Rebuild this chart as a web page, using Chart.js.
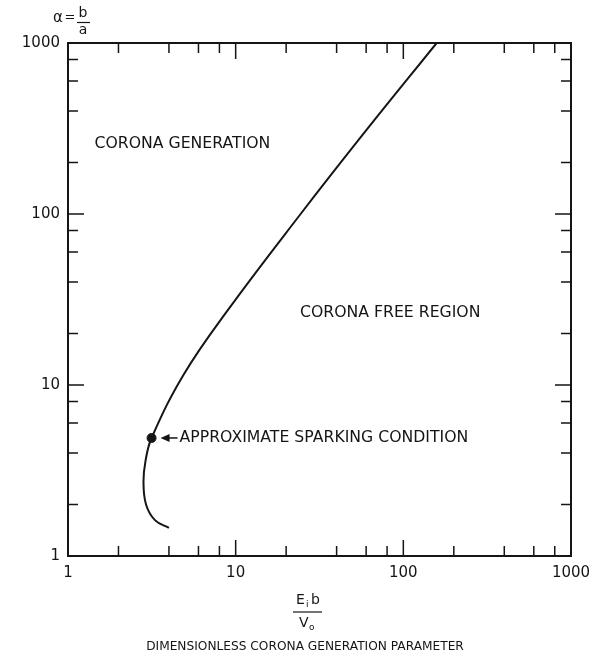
<!DOCTYPE html>
<html>
<head>
<meta charset="utf-8">
<script src="https://cdn.jsdelivr.net/npm/chart.js@4.4.0/dist/chart.umd.min.js"></script>
<style>
  html, body { margin: 0; padding: 0; background: #fff; }
</style>
</head>
<body>
<canvas id="chart" width="601" height="658"></canvas>
<script>
// Corona generation boundary (log-log)
const curveX = [4.0, 3.3, 2.92, 2.82, 2.9, 3.15, 4.92, 9.0, 24.2, 59, 158];
const curveY = [1.46, 1.62, 2.0, 2.7, 3.6, 4.9, 11.6, 27.5, 99, 302, 1000];
const sparkX = [3.15];
const sparkY = [4.9];

const tickValues = [1, 2, 4, 6, 8, 10, 20, 40, 60, 80, 100, 200, 400, 600, 800, 1000];
const tickLabels = ['1', '10', '100', '1000'];

const INK = '#151515';
const FONT = '"DejaVu Sans", sans-serif';

function setTicks(scale) {
  scale.ticks = tickValues.map(v => ({ value: v }));
}

function tickLabel(value) {
  const s = String(value);
  return tickLabels.includes(s) ? s : '';
}

// frame, inward ticks, notes and axis titles
const decorations = {
  id: 'decorations',
  afterDraw(chart) {
    const { ctx, chartArea: a, scales: { x, y } } = chart;
    ctx.save();
    ctx.strokeStyle = INK;
    ctx.lineWidth = 2;
    ctx.strokeRect(a.left, a.top, a.right - a.left, a.bottom - a.top);

    ctx.lineWidth = 1.5;
    tickValues.forEach(v => {
      if (v === 1 || v === 1000) return;
      const len = tickLabels.includes(String(v)) ? 16 : 10;
      const px = x.getPixelForValue(v);
      const py = y.getPixelForValue(v);
      ctx.beginPath();
      ctx.moveTo(px, a.bottom); ctx.lineTo(px, a.bottom - len);
      ctx.moveTo(px, a.top); ctx.lineTo(px, a.top + len);
      ctx.moveTo(a.left, py); ctx.lineTo(a.left + len, py);
      ctx.moveTo(a.right, py); ctx.lineTo(a.right - len, py);
      ctx.stroke();
    });

    ctx.fillStyle = INK;
    ctx.font = '15.7px ' + FONT;
    ctx.textBaseline = 'middle';
    ctx.textAlign = 'left';
    ctx.fillText('CORONA GENERATION', x.getPixelForValue(1.44), y.getPixelForValue(258));
    ctx.fillText('CORONA FREE REGION', x.getPixelForValue(24.2), y.getPixelForValue(26.5));

    // arrow to sparking point
    const sx = x.getPixelForValue(sparkX[0]);
    const sy = y.getPixelForValue(sparkY[0]);
    ctx.beginPath();
    ctx.moveTo(sx + 9, sy);
    ctx.lineTo(sx + 18, sy - 4);
    ctx.lineTo(sx + 18, sy + 4);
    ctx.closePath();
    ctx.fill();
    ctx.lineWidth = 1.5;
    ctx.beginPath();
    ctx.moveTo(sx + 16, sy); ctx.lineTo(sx + 26, sy);
    ctx.stroke();
    ctx.fillText('APPROXIMATE SPARKING CONDITION', sx + 28, sy);

    // y axis title: alpha = b / a
    ctx.font = '15px ' + FONT;
    ctx.textAlign = 'center';
    ctx.fillText('\u03b1', 58, 18);
    ctx.font = '13px ' + FONT;
    ctx.fillText('=', 70, 18);
    ctx.font = '14px ' + FONT;
    ctx.fillText('b', 83, 13);
    ctx.fillText('a', 83, 30);
    ctx.lineWidth = 1.2;
    ctx.beginPath();
    ctx.moveTo(77, 22.5); ctx.lineTo(90, 22.5);
    ctx.stroke();

    // x axis title: Ei b / Vo
    ctx.font = '14px ' + FONT;
    ctx.textAlign = 'left';
    ctx.fillText('E', 296, 600);
    ctx.font = '9px ' + FONT;
    ctx.fillText('i', 306, 605);
    ctx.font = '14px ' + FONT;
    ctx.fillText('b', 311, 600);
    ctx.fillText('V', 299, 623);
    ctx.font = '9px ' + FONT;
    ctx.fillText('o', 309, 628);
    ctx.beginPath();
    ctx.moveTo(293, 612); ctx.lineTo(322, 612);
    ctx.stroke();

    ctx.font = '12.2px ' + FONT;
    ctx.textAlign = 'center';
    ctx.fillText('DIMENSIONLESS CORONA GENERATION PARAMETER', 305, 647);
    ctx.restore();
  }
};

const axisTicks = {
  autoSkip: false,
  maxRotation: 0,
  padding: 8,
  color: INK,
  font: { family: 'DejaVu Sans', size: 15 },
  callback: tickLabel
};

new Chart(document.getElementById('chart'), {
  type: 'scatter',
  data: {
    datasets: [
      {
        data: curveX.map((v, i) => ({ x: v, y: curveY[i] })),
        showLine: true,
        borderColor: INK,
        borderWidth: 2,
        pointRadius: 0,
        tension: 0.4
      },
      {
        data: sparkX.map((v, i) => ({ x: v, y: sparkY[i] })),
        pointRadius: 4.5,
        backgroundColor: INK,
        borderColor: INK
      }
    ]
  },
  options: {
    responsive: false,
    animation: false,
    layout: { padding: { top: 43, right: 30, left: 0, bottom: 0 } },
    plugins: { legend: { display: false }, tooltip: { enabled: false } },
    scales: {
      x: {
        type: 'logarithmic', min: 1, max: 1000,
        afterBuildTicks: setTicks,
        afterFit: s => { s.height = 102; s.paddingLeft = 0; s.paddingRight = 0; },
        grid: { display: false, drawTicks: false },
        border: { display: false },
        ticks: axisTicks
      },
      y: {
        type: 'logarithmic', min: 1, max: 1000,
        afterBuildTicks: setTicks,
        afterFit: s => { s.width = 68; s.paddingTop = 0; s.paddingBottom = 0; },
        grid: { display: false, drawTicks: false },
        border: { display: false },
        ticks: axisTicks
      }
    }
  },
  plugins: [decorations]
});
</script>
</body>
</html>
